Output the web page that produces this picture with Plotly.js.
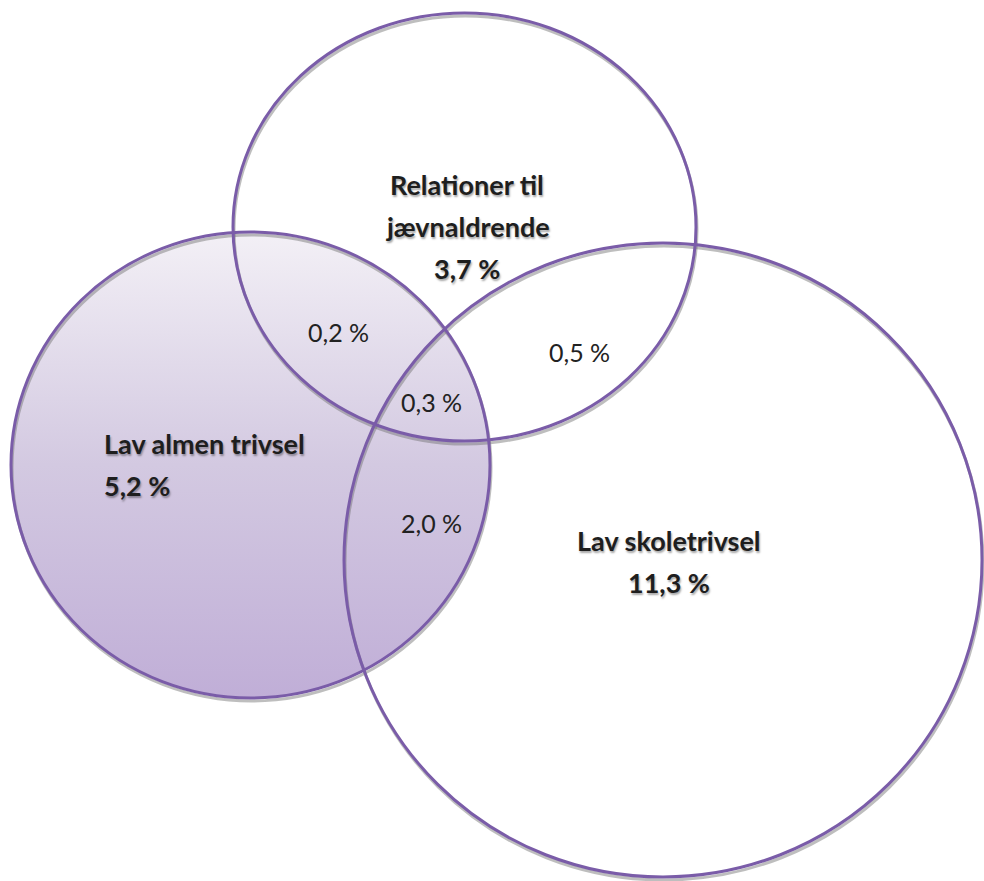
<!DOCTYPE html>
<html>
<head>
<meta charset="utf-8">
<script src="https://cdn.plot.ly/plotly-3.0.1.min.js"></script>
<style>html,body{margin:0;padding:0;background:#fff;}#chart{width:984px;height:881px;}</style>
</head>
<body>
<div id="chart"></div>
<script>
// ---- data ----
const setNames = [['Relationer til', 'jævnaldrende'], ['Lav almen trivsel'], ['Lav skoletrivsel']];
const setValues = [3.7, 5.2, 11.3];
const overlapNames = ['Relationer ∩ Almen', 'Alle tre', 'Almen ∩ Skole', 'Relationer ∩ Skole'];
const overlapValues = [0.2, 0.3, 2.0, 0.5];

// ---- layout geometry (pixel-space axes) ----
const W = 984, H = 881;
// circles: [cx, cy, rx, ry]
const circles = [
  [464.5, 227, 231.5, 214],   // Relationer til jævnaldrende
  [250.5, 465, 239.5, 233],   // Lav almen trivsel
  [663, 560, 319, 317]        // Lav skoletrivsel
];
const nameLabelPos = [ // x, first line y, anchor
  [467, 184, 'center'],
  [102, 443, 'left'],
  [669, 540, 'center']
];
const overlapPos = [[338, 332], [431, 402], [431, 523], [579, 352]];
const lineGap = 42;

const fmt = v => v.toFixed(1).replace('.', ',') + ' %';

// gradient filled left circle
const N = 240;
const gx = [], gy = [];
const c1 = circles[1];
for (let i = 0; i <= N; i++) {
  const t = 2 * Math.PI * i / N;
  gx.push(c1[0] + c1[2] * Math.cos(t));
  gy.push(c1[1] + c1[3] * Math.sin(t));
}
const traces = [{
  type: 'scatter', mode: 'lines', x: gx, y: gy, fill: 'toself',
  line: {width: 0, color: 'rgba(0,0,0,0)'},
  fillgradient: {
    type: 'vertical',
    start: c1[1] - c1[3], stop: c1[1] + c1[3],
    colorscale: [[0, '#f3f0f6'], [0.5, '#d3c9e1'], [1, '#c0aed7']]
  },
  hoverinfo: 'skip', showlegend: false
}];

const shapes = [];
circles.forEach(c => {
  shapes.push({type: 'circle', xref: 'x', yref: 'y', layer: 'above',
    x0: c[0] - c[2] + 1, x1: c[0] + c[2] + 1, y0: c[1] - c[3] + 3, y1: c[1] + c[3] + 3,
    line: {color: 'rgba(110,110,110,0.45)', width: 3}});
});
circles.forEach(c => {
  shapes.push({type: 'circle', xref: 'x', yref: 'y', layer: 'above',
    x0: c[0] - c[2], x1: c[0] + c[2], y0: c[1] - c[3], y1: c[1] + c[3],
    line: {color: '#7a5ca8', width: 3}});
});

const annotations = [];
const boldFont = {family: 'Lato, "Open Sans", sans-serif', size: 27, color: '#1e1e1e',
  weight: 'bold', shadow: '1px 2px 2px rgba(0,0,0,0.35)'};
const regFont = {family: 'Lato, "Open Sans", sans-serif', size: 25, color: '#222'};
setNames.forEach((lines, i) => {
  const p = nameLabelPos[i];
  const all = lines.concat([fmt(setValues[i])]);
  all.forEach((txt, j) => {
    annotations.push({xref: 'x', yref: 'y', x: p[0], y: p[1] + j * lineGap,
      text: '<b>' + txt + '</b>', showarrow: false, xanchor: p[2], yanchor: 'middle',
      font: boldFont});
  });
});
overlapValues.forEach((v, i) => {
  annotations.push({xref: 'x', yref: 'y', x: overlapPos[i][0], y: overlapPos[i][1],
    text: fmt(v), showarrow: false, xanchor: 'center', yanchor: 'middle', font: regFont});
});

const layout = {
  width: W, height: H,
  margin: {l: 0, r: 0, t: 0, b: 0},
  paper_bgcolor: '#fff', plot_bgcolor: '#fff',
  xaxis: {range: [0, W], visible: false, fixedrange: true},
  yaxis: {range: [H, 0], visible: false, fixedrange: true},
  shapes: shapes, annotations: annotations, showlegend: false
};
Plotly.newPlot('chart', traces, layout, {staticPlot: true, displayModeBar: false});
</script>
</body>
</html>
